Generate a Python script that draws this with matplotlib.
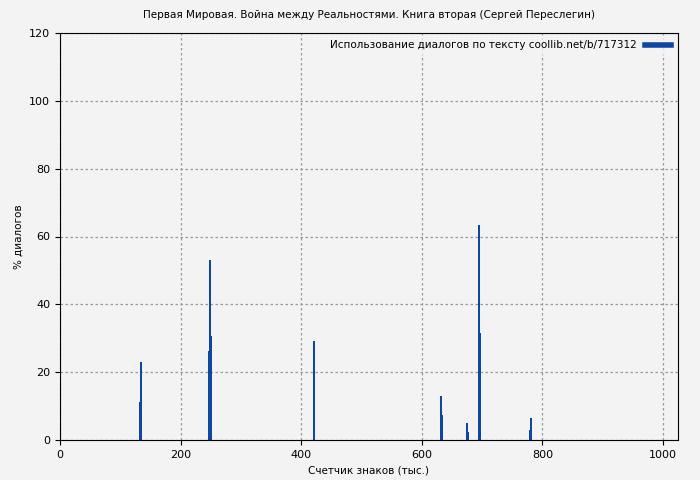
import matplotlib
matplotlib.use('Agg')
import matplotlib.pyplot as plt

# positions (thousand chars) and % dialogue values
positions = [133, 134, 247, 249, 250, 421, 422, 632, 633, 675, 676, 695, 696, 780, 781, 782]
values = [11.3, 23, 26.2, 53.1, 30.6, 29.2, 14.5, 13, 7.4, 5, 2.4, 63.4, 31.6, 3, 6.4, 3.2]

bg = '#f3f3f3'
color = '#0d47a1'

fig = plt.figure(figsize=(7, 4.8), dpi=100, facecolor=bg)
ax = fig.add_axes([60 / 700, 40 / 480, 618 / 700, 407 / 480])
ax.set_facecolor(bg)

ax.vlines(positions, 0, values, colors=color, linewidth=1.3, antialiased=False)
ax.plot([], [], color=color, linewidth=4,
        label='Использование диалогов по тексту coollib.net/b/717312')

ax.set_xlim(0, 1025)
ax.set_ylim(0, 120)
ax.set_xticks([0, 200, 400, 600, 800, 1000])
ax.set_yticks([0, 20, 40, 60, 80, 100, 120])
ax.tick_params(labelsize=8)
ax.grid(True, linestyle=(0, (2, 2)), color='#999999', linewidth=0.9)
ax.set_axisbelow(True)

ax.set_title('Первая Мировая. Война между Реальностями. Книга вторая (Сергей Переслегин)', fontsize=7.5, pad=11)
ax.set_xlabel('Счетчик знаков (тыс.)', fontsize=7.5)
ax.set_ylabel('% диалогов', fontsize=7.5)
leg = ax.legend(loc='upper right', fontsize=7.5, frameon=True, facecolor=bg, edgecolor=bg,
                handlelength=2.5, markerfirst=False, borderaxespad=0.3)

fig.savefig('out.png', dpi=100, facecolor=bg)
